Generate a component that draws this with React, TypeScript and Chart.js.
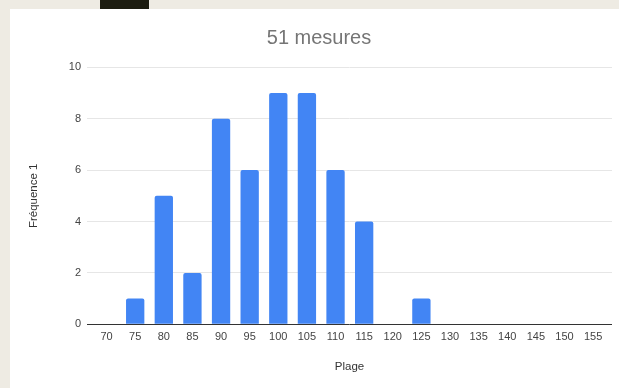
import React, { useEffect, useRef } from "react";
import { Chart, registerables } from "chart.js";

Chart.register(...registerables);

// Histogram of the 51 measurements, grouped into 5-unit ranges
const categories = [70, 75, 80, 85, 90, 95, 100, 105, 110, 115, 120, 125, 130, 135, 140, 145, 150, 155];
const frequencies = [0, 1, 5, 2, 8, 6, 9, 9, 6, 4, 0, 1, 0, 0, 0, 0, 0, 0];
const yTicks = [0, 2, 4, 6, 8, 10];

const chartTitle = "51 mesures";
const xTitle = "Plage";
const yTitle = "Fréquence 1";

const FONT = "'Liberation Sans', Arial, Helvetica, sans-serif";

export default function App() {
  const canvasRef = useRef<HTMLCanvasElement | null>(null);

  useEffect(() => {
    const canvas = canvasRef.current;
    if (!canvas) return;

    const chart = new Chart(canvas, {
      type: "bar",
      data: {
        datasets: [
          {
            data: categories.map((c, i) => ({ x: c, y: frequencies[i] })),
            backgroundColor: "#4285f4",
            borderWidth: 0,
            borderRadius: 2,
            barPercentage: 0.8,
            categoryPercentage: 0.8,
          },
        ],
      },
      options: {
        animation: false,
        responsive: false,
        devicePixelRatio: 1,
        layout: { padding: { left: 16, right: 7, top: 0, bottom: 0 } },
        plugins: {
          legend: { display: false },
          tooltip: { enabled: false },
          title: {
            display: true,
            text: chartTitle,
            color: "#757575",
            font: { family: FONT, size: 20, weight: "normal" },
            padding: { top: 17, bottom: 17.3 },
          },
        },
        scales: {
          x: {
            type: "linear",
            offset: false,
            min: 66.58,
            max: 158.3,
            afterBuildTicks: (scale: any) => {
              scale.ticks = categories.map((v) => ({ value: v }));
            },
            afterFit: (scale: any) => {
              scale.height = 63.7;
            },
            ticks: {
              autoSkip: false,
              maxRotation: 0,
              padding: 6,
              color: "#444444",
              font: { family: FONT, size: 11 },
              callback: (v: any) => String(v),
            },
            grid: { display: false, drawTicks: false },
            border: { display: false },
            title: {
              display: true,
              text: xTitle,
              color: "#333333",
              font: { family: FONT, size: 11.5 },
              padding: { top: 0, bottom: 14 },
            },
          },
          y: {
            min: 0,
            max: 10,
            afterBuildTicks: (scale: any) => {
              scale.ticks = yTicks.map((v) => ({ value: v }));
            },
            afterFit: (scale: any) => {
              scale.width = 61;
            },
            ticks: {
              padding: 6,
              color: "#444444",
              font: { family: FONT, size: 11 },
            },
            grid: {
              drawTicks: false,
              color: (ctx: any) => (ctx.tick && ctx.tick.value === 0 ? "#333333" : "#e6e6e6"),
            },
            border: { display: false },
            title: {
              display: true,
              text: yTitle,
              color: "#333333",
              font: { family: FONT, size: 11.5 },
              padding: { top: 1, bottom: 0 },
            },
          },
        },
      },
    } as any);

    return () => chart.destroy();
  }, []);

  return (
    <div
      style={{
        position: "absolute",
        left: 0,
        top: 0,
        width: 619,
        height: 388,
        background: "#eeebe3",
        overflow: "hidden",
      }}
    >
      <div
        style={{
          position: "absolute",
          left: 100,
          top: 0,
          width: 49,
          height: 9,
          background: "#1c1c10",
        }}
      />
      <div
        style={{
          position: "absolute",
          left: 10,
          top: 9,
          width: 609,
          height: 379,
          background: "#ffffff",
        }}
      >
        <canvas
          ref={canvasRef}
          width={609}
          height={379}
          style={{ display: "block", width: 609, height: 379 }}
        />
      </div>
    </div>
  );
}
